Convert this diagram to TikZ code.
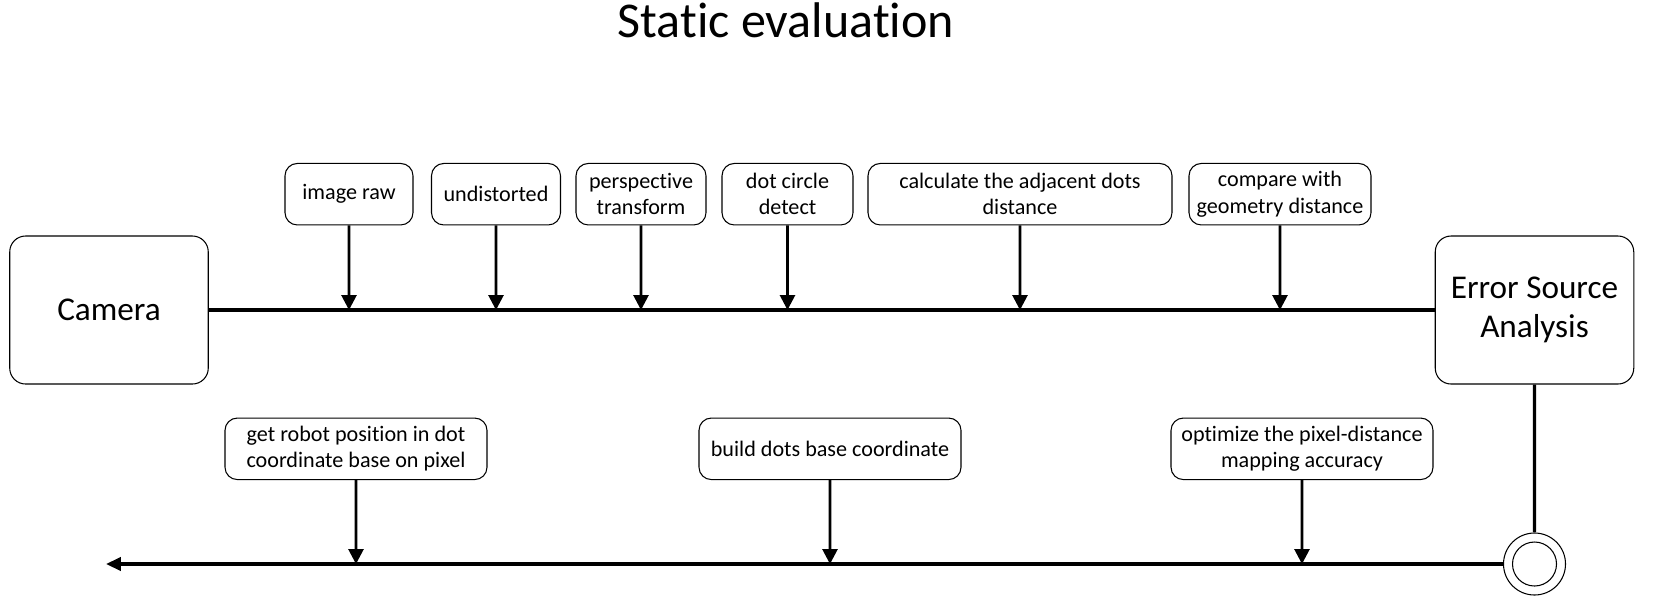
\documentclass[tikz,border=0pt]{standalone}
\usepackage{fontspec}
\setmainfont{Carlito}[Ligatures=NoCommon]
\usetikzlibrary{arrows.meta}

\begin{document}
\begin{tikzpicture}[scale=0.2]
\tikzstyle{every node}+=[inner sep=0pt]
\tikzstyle{stage}=[draw=black, line width=0.6pt, rounded corners=7pt, minimum height=1.23cm, align=center, font=\fontsize{12.6}{14.8}\selectfont]
\tikzstyle{terminal}=[draw=black, line width=0.6pt, rounded corners=9pt, minimum width=3.97cm, minimum height=2.96cm, align=center, font=\fontsize{18.9}{22.4}\selectfont]
\tikzstyle{flow}=[black, line width=1.9pt]
\tikzstyle{feed}=[black, line width=1.6pt, -{Triangle[length=8.5pt,width=8.5pt]}]
\useasboundingbox (0,0) rectangle (165.5,-61.2);
\draw (78.6,-3.77) node [anchor=base, font=\fontsize{28.5}{34}\selectfont] (title) {Static evaluation};
\draw (10.9,-31) node [terminal] (cam) {Camera};
\draw (153.45,-31) node [terminal] (err) {Error Source\\Analysis};
\draw (34.9,-19.42) node [stage, minimum width=2.56cm] (raw) {image raw};
\draw (49.6,-19.42) node [stage, minimum width=2.58cm] (undist) {undistorted};
\draw (64.1,-19.42) node [stage, minimum width=2.6cm] (persp) {perspective\\transform};
\draw (78.75,-19.42) node [stage, minimum width=2.62cm] (dotc) {dot circle\\detect};
\draw (102,-19.42) node [stage, minimum width=6.08cm] (calc) {calculate the adjacent dots\\distance};
\draw (128,-19.42) node [stage, minimum width=3.64cm] (comp) {compare with\\geometry distance};
\draw (35.6,-44.88) node [stage, minimum width=5.24cm] (robot) {get robot position in dot\\coordinate base on pixel};
\draw (83,-44.88) node [stage, minimum width=5.24cm] (build) {build dots base coordinate};
\draw (130.2,-44.88) node [stage, minimum width=5.24cm] (optim) {optimize the pixel-distance\\mapping accuracy};
\draw (153.45,-56.4) node [draw=black, line width=0.6pt, circle, minimum size=1.24cm] (done) {};
\draw (153.45,-56.4) node [draw=black, line width=0.6pt, circle, minimum size=0.88cm] (donecore) {};
\coordinate (out) at (10.6,-56.4);
\draw [flow] (cam) -- (err);
\draw [feed] (raw) -- (raw |- cam);
\draw [feed] (undist) -- (undist |- cam);
\draw [feed] (persp) -- (persp |- cam);
\draw [feed] (dotc) -- (dotc |- cam);
\draw [feed] (calc) -- (calc |- cam);
\draw [feed] (comp) -- (comp |- cam);
\draw [flow] (err) -- (done);
\draw [flow, -{Triangle[length=8.5pt,width=7.5pt]}] (done) -- (out);
\draw [feed] (robot) -- (robot |- done);
\draw [feed] (build) -- (build |- done);
\draw [feed] (optim) -- (optim |- done);
\end{tikzpicture}
\end{document}
